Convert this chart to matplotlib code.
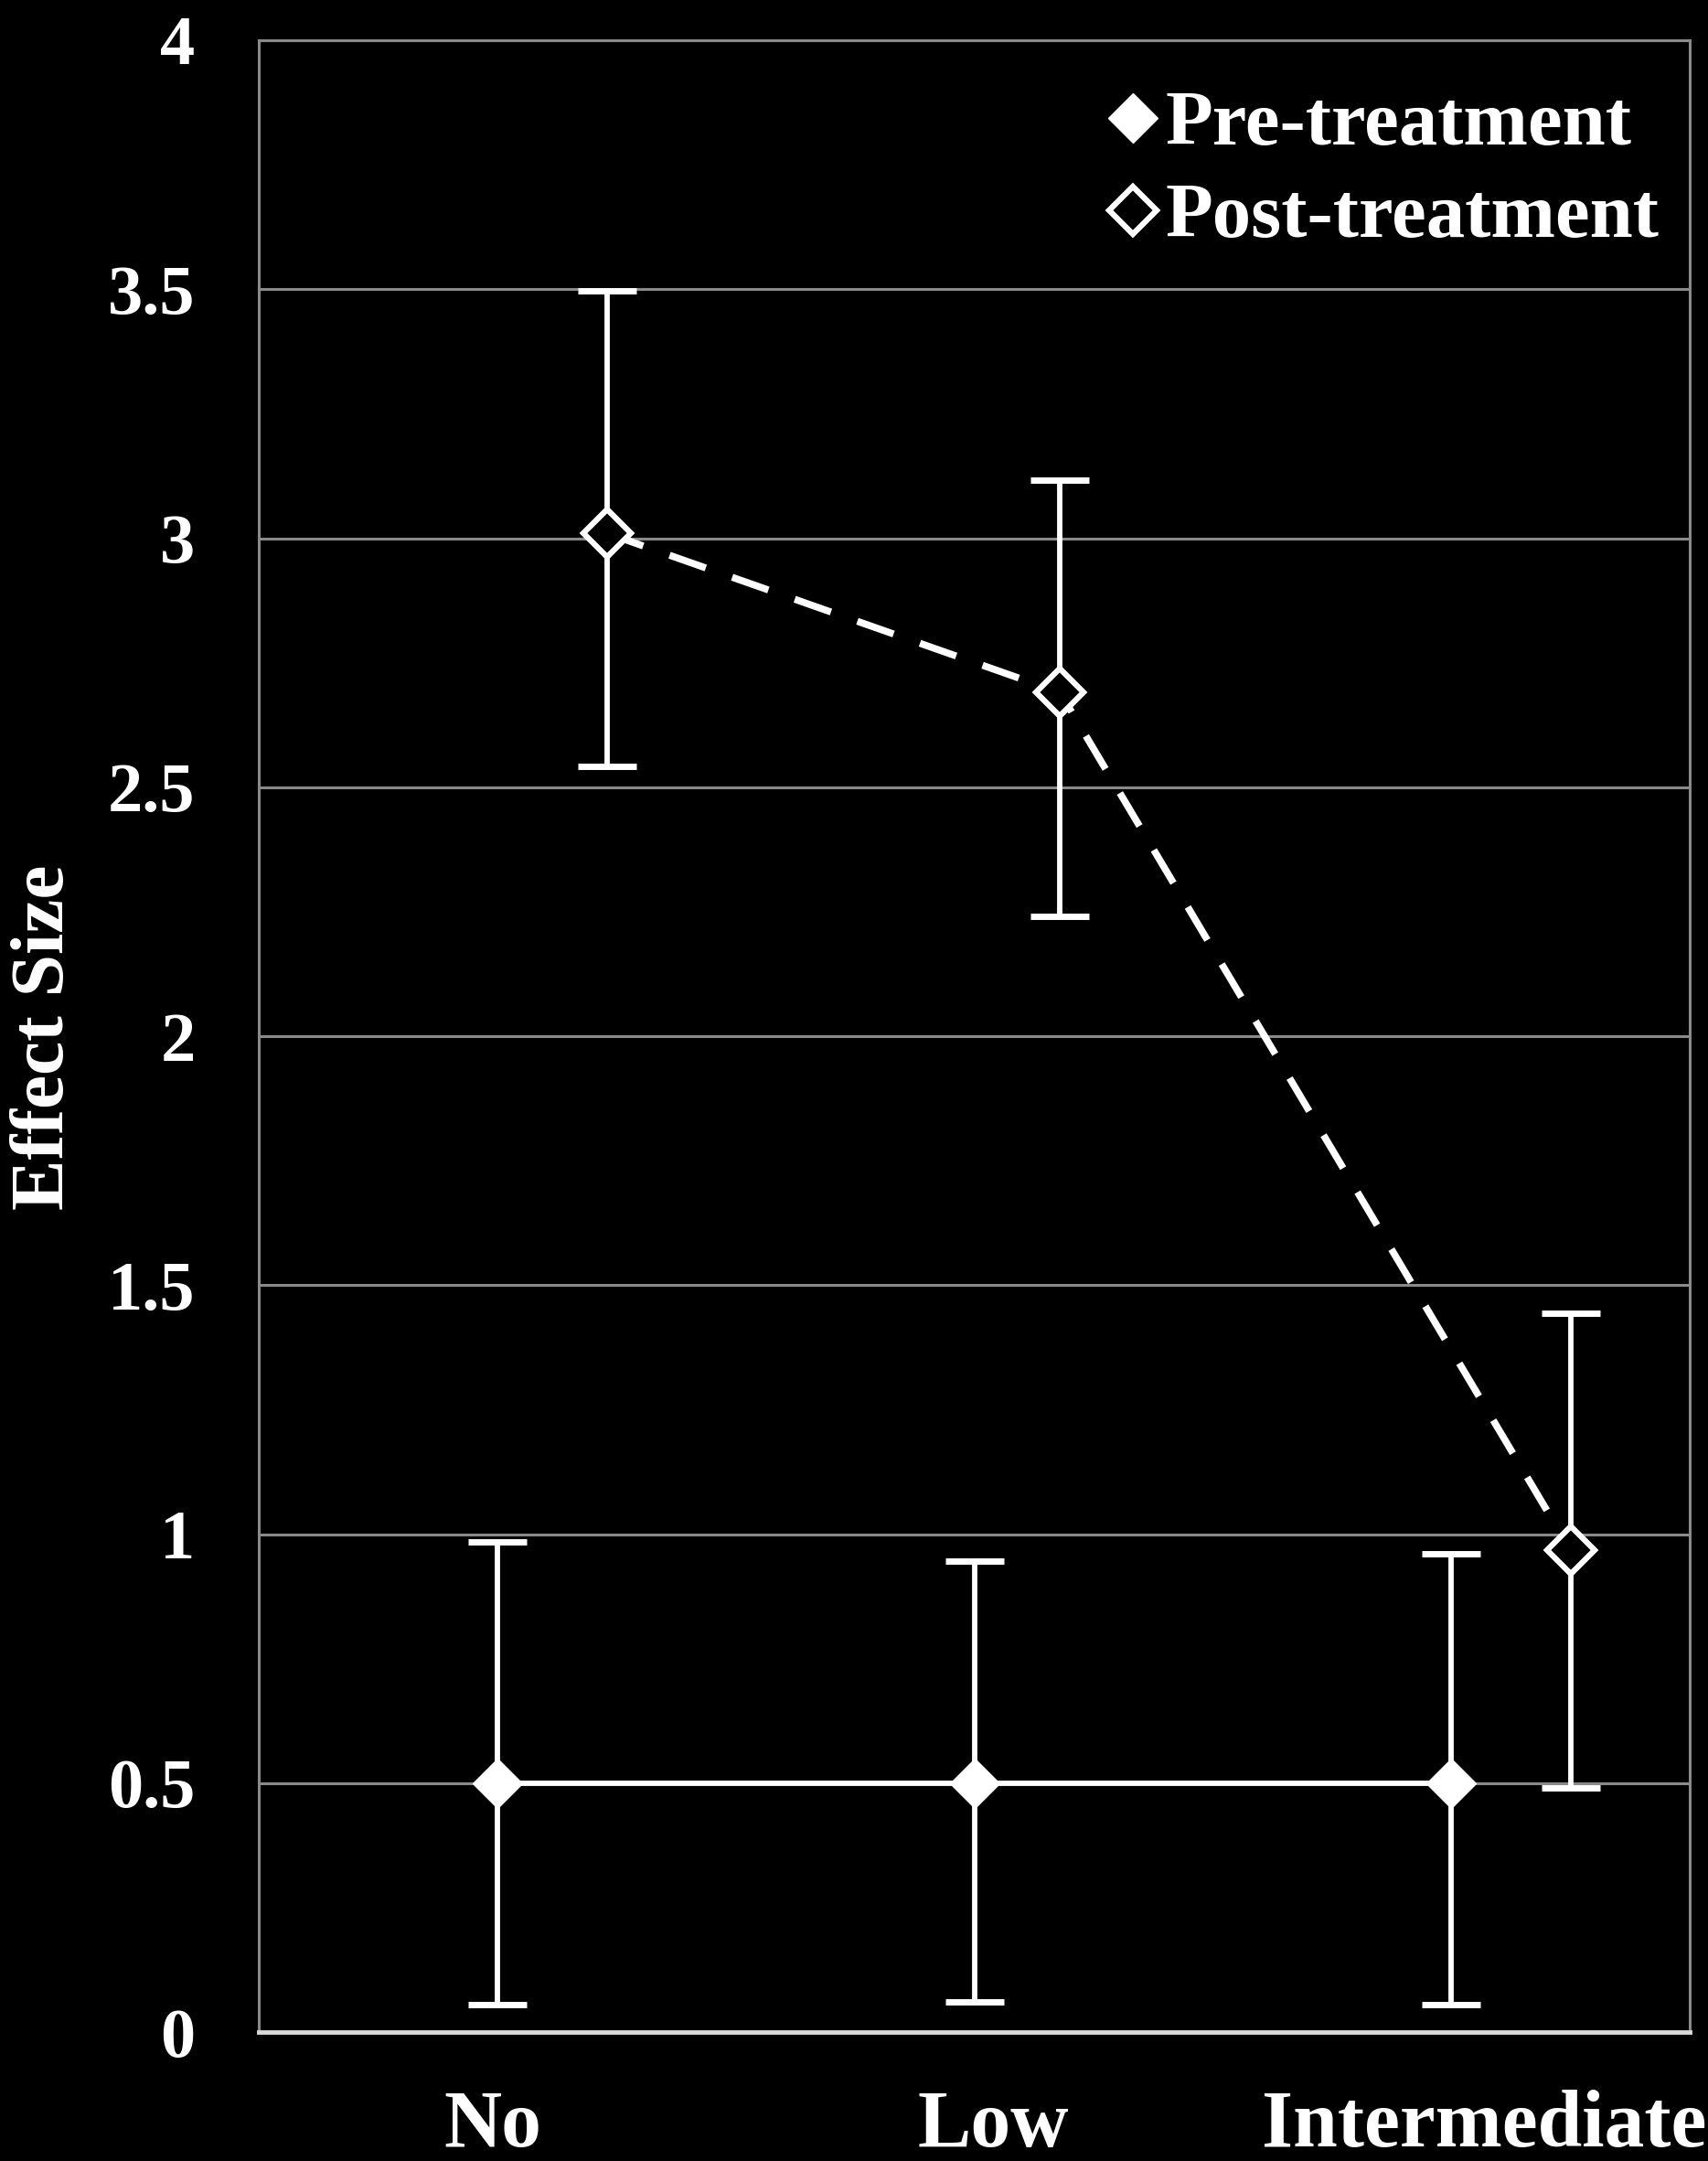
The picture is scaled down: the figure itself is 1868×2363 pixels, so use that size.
import numpy as np
import matplotlib
matplotlib.use("Agg")
from matplotlib import pyplot as plt
from matplotlib.lines import Line2D

# data
categories = ["No", "Low", "Intermediate"]
cat_pos = [0.49, 1.54, 2.57]

pre_x = [0.5, 1.5, 2.5]
pre_y = [0.5, 0.5, 0.5]
pre_hi = [0.984, 0.946, 0.961]
pre_lo = [0.055, 0.060, 0.055]

post_x = [0.73, 1.68, 2.75]
post_y = [3.01, 2.69, 0.968]
post_hi = [3.497, 3.117, 1.443]
post_lo = [2.542, 2.240, 0.490]

yticks = [0, 0.5, 1, 1.5, 2, 2.5, 3, 3.5, 4]
ytick_labels = ["0", "0.5", "1", "1.5", "2", "2.5", "3", "3.5", "4"]
series_labels = ["Pre-treatment", "Post-treatment"]

plt.rcParams['font.family'] = ['Liberation Serif', 'DejaVu Serif']
plt.rcParams['font.weight'] = 'bold'

fig = plt.figure(figsize=(18.68, 23.63), dpi=100, facecolor='black')
ax = fig.add_axes([283 / 1868, 1 - 2222 / 2363, 1565 / 1868, 2178 / 2363])
ax.set_facecolor('black')

# error bars
pre_err = [np.array(pre_y) - np.array(pre_lo), np.array(pre_hi) - np.array(pre_y)]
post_err = [np.array(post_y) - np.array(post_lo), np.array(post_hi) - np.array(post_y)]
ax.errorbar(pre_x, pre_y, yerr=pre_err, fmt='none', ecolor='white',
            elinewidth=4.2, capsize=23, capthick=5, zorder=3)
ax.errorbar(post_x, post_y, yerr=post_err, fmt='none', ecolor='white',
            elinewidth=4.2, capsize=23, capthick=5, zorder=3)

# series lines + markers
ax.plot(pre_x, pre_y, color='white', lw=4.2, marker='D', ms=27,
        mfc='white', mec='white', zorder=4)
post_line, = ax.plot(post_x, post_y, color='white', lw=5.5, ls='--',
                     marker='D', ms=26, mfc='black', mec='white', mew=4.5,
                     zorder=4)
post_line.set_dashes((5.5, 4))

ax.set_xlim(0, 3)
ax.set_ylim(0, 4)
ax.set_yticks(yticks)
ax.set_yticklabels(ytick_labels)
ax.set_xticks(cat_pos)
ax.set_xticklabels(categories, fontsize=63, color='white')
ax.tick_params(axis='y', length=0, pad=50, labelsize=55, labelcolor='white')
ax.tick_params(axis='x', length=0, pad=45)

ax.grid(axis='y', color='#8a8a8a', lw=2.2)
ax.set_axisbelow(True)
for s in ['left', 'top', 'right']:
    ax.spines[s].set_color('#8a8a8a')
    ax.spines[s].set_linewidth(2.2)
ax.spines['bottom'].set_color('#d8d8d8')
ax.spines['bottom'].set_linewidth(3.5)

ax.set_ylabel('Effect Size', fontsize=60, fontweight='bold', color='white', va='center')
ax.yaxis.set_label_coords(-0.149, 0.4995)

# legend, no frame, marker sitting right next to the text
h1 = Line2D([], [], ls='none', marker='D', ms=27, mfc='white', mec='white')
h2 = Line2D([], [], ls='none', marker='D', ms=26, mfc='black', mec='white', mew=4.5)
leg = fig.legend([h1, h2], series_labels, loc='upper right',
                 bbox_to_anchor=(1815 / 1868, 1 - 99 / 2363),
                 bbox_transform=fig.transFigure, frameon=False,
                 fontsize=61, handlelength=0.55, handletextpad=0.15,
                 labelspacing=0.28, borderpad=0, borderaxespad=0,
                 numpoints=1)
for t in leg.get_texts():
    t.set_color('white')

fig.savefig('out.png', dpi=100, facecolor='black')
